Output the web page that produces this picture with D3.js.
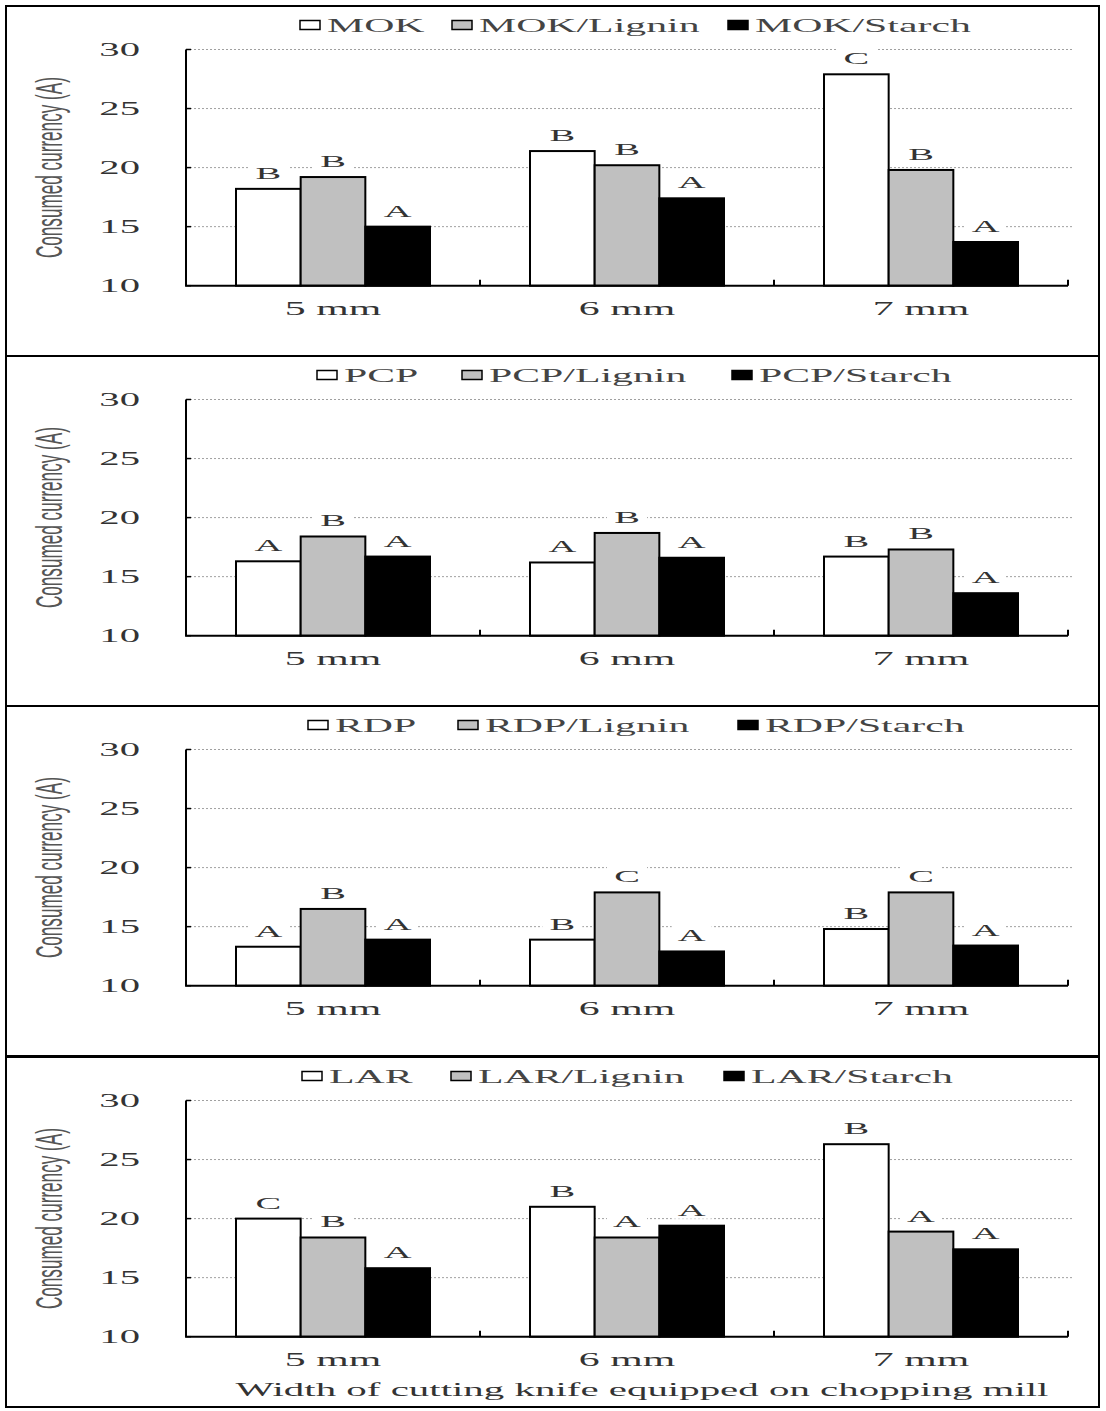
<!DOCTYPE html>
<html><head><meta charset="utf-8">
<script src="https://cdn.jsdelivr.net/npm/d3@7"></script>
<style>body{margin:0;background:#fff}</style>
</head><body>
<script>
// ---------- data ----------
const categories = ["5 mm", "6 mm", "7 mm"];
const yTickValues = [10, 15, 20, 25, 30];
const gridValues = [15, 20, 25, 30];
const panelNames = ["MOK", "PCP", "RDP", "LAR"];
const seriesSuffixes = ["", "/Lignin", "/Starch"];
const seriesFills = ["#ffffff", "#c0c0c0", "#000000"];

const mokPlain  = [18.2, 21.4, 27.9];
const mokLignin = [19.2, 20.2, 19.8];
const mokStarch = [15.0, 17.4, 13.7];
const pcpPlain  = [16.3, 16.2, 16.7];
const pcpLignin = [18.4, 18.7, 17.3];
const pcpStarch = [16.7, 16.6, 13.6];
const rdpPlain  = [13.3, 13.9, 14.8];
const rdpLignin = [16.5, 17.9, 17.9];
const rdpStarch = [13.9, 12.9, 13.4];
const larPlain  = [20.0, 21.0, 26.3];
const larLignin = [18.4, 18.4, 18.9];
const larStarch = [15.8, 19.4, 17.4];

const mokPlainLetters  = ["B", "B", "C"];
const mokLigninLetters = ["B", "B", "B"];
const mokStarchLetters = ["A", "A", "A"];
const pcpPlainLetters  = ["A", "A", "B"];
const pcpLigninLetters = ["B", "B", "B"];
const pcpStarchLetters = ["A", "A", "A"];
const rdpPlainLetters  = ["A", "B", "B"];
const rdpLigninLetters = ["B", "C", "C"];
const rdpStarchLetters = ["A", "A", "A"];
const larPlainLetters  = ["C", "B", "B"];
const larLigninLetters = ["B", "A", "A"];
const larStarchLetters = ["A", "A", "A"];

const yTitle = "Consumed currency (A)";
const xTitle = "Width of cutting knife equipped on chopping mill";

// ---------- assemble ----------
const panels = [
  {name: panelNames[0], series: [mokPlain, mokLignin, mokStarch], letters: [mokPlainLetters, mokLigninLetters, mokStarchLetters]},
  {name: panelNames[1], series: [pcpPlain, pcpLignin, pcpStarch], letters: [pcpPlainLetters, pcpLigninLetters, pcpStarchLetters]},
  {name: panelNames[2], series: [rdpPlain, rdpLignin, rdpStarch], letters: [rdpPlainLetters, rdpLigninLetters, rdpStarchLetters]},
  {name: panelNames[3], series: [larPlain, larLignin, larStarch], letters: [larPlainLetters, larLigninLetters, larStarchLetters]}
];

const W = 1106, H = 1411;
const SX = 2.2; // horizontal stretch of the original figure
const serif = "'Liberation Serif', 'Times New Roman', serif";
const sans = "'Liberation Sans', Arial, sans-serif";
const panelTop = [6, 356, 706, 1057];
const panelH = 350;
const borderL = 6, borderR = 1099;
const axisL = 186, axisR = 1068;

const svg = d3.select("body").append("svg").attr("width", W).attr("height", H)
  .style("display", "block");

const x = d3.scaleBand().domain(categories).range([axisL, axisR]).padding(0);
const xs = d3.scaleBand().domain(d3.range(3)).range([50, x.bandwidth() - 50]).padding(0);

function stretchedText(g, tx, ty, txt, size, anchor, fill, extra) {
  const t = g.append("g").attr("transform", `translate(${tx},${ty}) scale(${SX},1)`)
    .append("text").attr("x", 0).attr("y", 0)
    .attr("text-anchor", anchor).attr("font-family", serif)
    .attr("font-size", size).attr("fill", fill).text(txt);
  if (extra) extra(t);
  return t;
}

const legendBoxX = [[300, 452, 728], [317, 462, 732], [308, 458, 738], [302, 451, 724]];

panels.forEach((p, pi) => {
  const top = panelTop[pi];
  const g = svg.append("g");
  const y = d3.scaleLinear().domain([10, 30]).range([top + 279.7, top + 43.5]);

  // panel border
  g.append("rect").attr("x", borderL).attr("y", top).attr("width", borderR - borderL).attr("height", panelH)
    .attr("fill", "none").attr("stroke", "#000").attr("stroke-width", 2);

  // gridlines
  g.selectAll(".grid").data(gridValues).join("line").attr("class", "grid")
    .attr("x1", axisL).attr("x2", axisR + 4)
    .attr("y1", d => y(d)).attr("y2", d => y(d))
    .attr("stroke", "#a0a0a0").attr("stroke-width", 1).attr("stroke-dasharray", "2,2");

  // bars
  p.series.forEach((vals, si) => {
    g.selectAll(null).data(vals).join("rect")
      .attr("x", (d, ci) => x(categories[ci]) + xs(si))
      .attr("y", d => y(d))
      .attr("width", xs.bandwidth())
      .attr("height", d => y(10) - y(d))
      .attr("fill", seriesFills[si]).attr("stroke", "#000").attr("stroke-width", 2);
  });

  // letters with white background
  p.series.forEach((vals, si) => {
    vals.forEach((v, ci) => {
      const cx = x(categories[ci]) + xs(si) + xs.bandwidth() / 2;
      const by = y(v) - 10;
      g.append("rect").attr("x", cx - 20).attr("y", by - 16).attr("width", 40).attr("height", 19).attr("fill", "#fff");
      stretchedText(g, cx, by, p.letters[si][ci], 17.5, "middle", "#333");
    });
  });

  // axes
  g.append("line").attr("x1", axisL).attr("x2", axisL).attr("y1", y(10)).attr("y2", y(30))
    .attr("stroke", "#000").attr("stroke-width", 2);
  g.append("line").attr("x1", axisL - 1).attr("x2", axisR).attr("y1", y(10)).attr("y2", y(10))
    .attr("stroke", "#000").attr("stroke-width", 2);
  g.selectAll(".yt").data(yTickValues).join("line").attr("class", "yt")
    .attr("x1", axisL).attr("x2", axisL + 5).attr("y1", d => y(d)).attr("y2", d => y(d))
    .attr("stroke", "#000").attr("stroke-width", 1.5);
  g.selectAll(".xt").data(categories).join("line").attr("class", "xt")
    .attr("x1", d => x(d) + x.bandwidth()).attr("x2", d => x(d) + x.bandwidth())
    .attr("y1", y(10)).attr("y2", y(10) - 6)
    .attr("stroke", "#000").attr("stroke-width", 2);

  // y tick labels
  yTickValues.forEach(v => {
    stretchedText(g, 140, y(v) + 6.5, String(v), 18.5, "end", "#333");
  });

  // category labels
  categories.forEach(c => {
    stretchedText(g, x(c) + x.bandwidth() / 2, y(10) + 29, c, 19, "middle", "#333");
  });

  // y title
  g.append("g").attr("transform", `translate(62,${(y(10) + y(30)) / 2}) scale(${SX},1) rotate(-90)`)
    .append("text").attr("text-anchor", "middle").attr("font-family", sans)
    .attr("font-size", 16.5).attr("fill", "#555")
    .attr("textLength", 181).attr("lengthAdjust", "spacingAndGlyphs").text(yTitle);

  // legend
  const ly = top + 25.5;
  seriesSuffixes.forEach((s, si) => {
    const bx = legendBoxX[pi][si];
    g.append("rect").attr("x", bx).attr("y", ly - 11).attr("width", 20).attr("height", 9)
      .attr("fill", seriesFills[si]).attr("stroke", "#000").attr("stroke-width", 1.5);
    stretchedText(g, bx + 27, ly, p.name + s, 19, "start", "#444");
  });

  // x title (bottom panel only)
  if (pi === panels.length - 1) {
    stretchedText(g, 642, top + 339, xTitle, 18, "middle", "#333", t =>
      t.attr("textLength", 813 / SX).attr("lengthAdjust", "spacingAndGlyphs"));
  }
});
</script>
</body></html>
